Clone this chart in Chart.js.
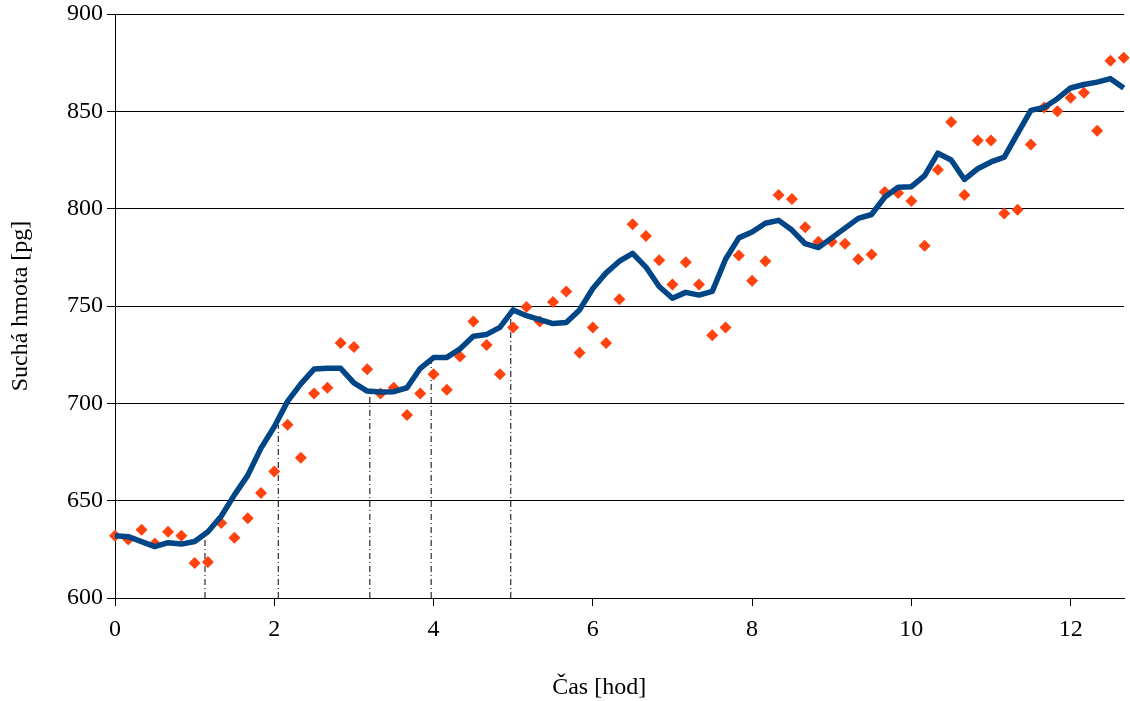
<!DOCTYPE html>
<html>
<head>
<meta charset="utf-8">
<script src="https://cdn.jsdelivr.net/npm/chart.js@4.4.1/dist/chart.umd.min.js"></script>
<style>
  html, body { margin: 0; padding: 0; background: #ffffff; }
  #wrap { width: 1130px; height: 701px; position: relative; }
</style>
</head>
<body>
<div id="wrap"><canvas id="c"></canvas></div>
<script>
// time of each measurement in minutes
const timesMin = [0,10,20,30,40,50,60,70,80,90,100,110,120,130,140,150,160,170,180,190,
  200,210,220,230,240,250,260,270,280,290,300,310,320,330,340,350,360,370,380,390,
  400,410,420,430,440,450,460,470,480,490,500,510,520,530,540,550,560,570,580,590,
  600,610,620,630,640,650,660,670,680,690,700,710,720,730,740,750,760];

// measured dry mass [pg] (orange diamonds)
const measured = [632,630,635,628,634,632,618,618.5,638.5,631,641,654,665,689,672,705,708,731,729,717.5,
  705,708,694,705,715,707,724,742,730,715,739,749.5,742,752,757.5,726,739,731,753.5,792,
  786,773.5,761,772.5,761,735,739,776,763,773,807,805,790.5,783,783,782,774,776.5,808.5,808,
  804,781,820,844.5,807,835,835,797.5,799.5,833,852,850,857,859.5,840,876,877.5];

// smoothed dry mass [pg] (blue line)
const smoothed = [632,631.5,629,626.4,628.4,627.7,629,634,642,653,663,677,688,701,710,717.6,718,718,710.5,706.3,
  705.8,706,708,718,723.5,723.6,728,734.5,735.4,739,748,745,743,741,741.5,748,759,767,773,777,
  770,760,754,757,755.6,757.5,774,785,788,792.5,794,789,782,780,785,790,795,797,806,811,
  811.3,817,828.5,825,815,820.5,824,826.5,838.5,850.5,852,856.5,862,863.8,865,866.8,862];

// dash-dot marker lines: time [h] and top value [pg]
const markerTimes = [1.13, 2.05, 3.2, 3.97, 4.97];
const markerTops = [634, 689, 705, 722, 748];

const yTicks = [600, 650, 700, 750, 800, 850, 900];
const xTicks = [0, 2, 4, 6, 8, 10, 12];
const xTitle = 'Čas [hod]';
const yTitle = 'Suchá hmota [pg]';

const FONT = "'Liberation Serif', 'DejaVu Serif', serif";

const pointsData = timesMin.map((t, i) => ({x: t / 60, y: measured[i]}));
const lineData = timesMin.map((t, i) => ({x: t / 60, y: smoothed[i]}));

const datasets = [
  {
    label: 'smoothed',
    data: lineData,
    borderColor: '#004586',
    backgroundColor: '#004586',
    borderWidth: 5.5,
    pointRadius: 0,
    tension: 0,
    borderJoinStyle: 'round',
    fill: false,
    clip: false,
    order: 0
  },
  {
    label: 'measured',
    data: pointsData,
    showLine: false,
    pointStyle: 'rectRot',
    pointRadius: 6,
    pointBackgroundColor: '#ff420e',
    pointBorderColor: '#ff420e',
    pointBorderWidth: 0,
    clip: false,
    order: 1
  }
];
markerTimes.forEach((t, i) => {
  datasets.push({
    label: 'marker' + i,
    data: [{x: t, y: yTicks[0]}, {x: t, y: markerTops[i]}],
    borderColor: '#000000',
    borderWidth: 1,
    borderDash: [6, 3, 1, 3],
    pointRadius: 0,
    fill: false,
    order: 2
  });
});

const xTitlePlugin = {
  id: 'xTitlePlugin',
  afterDraw(chart) {
    const ctx = chart.ctx;
    ctx.save();
    ctx.fillStyle = '#000000';
    ctx.font = "24px " + FONT;
    ctx.textAlign = 'center';
    ctx.textBaseline = 'middle';
    const xs = chart.scales.x;
    ctx.fillText(xTitle, xs.getPixelForValue(6.08), 688);
    ctx.restore();
  }
};

const whiteBg = {
  id: 'whiteBg',
  beforeDraw(chart) {
    const ctx = chart.ctx;
    ctx.save();
    ctx.fillStyle = '#ffffff';
    ctx.fillRect(0, 0, chart.width, chart.height);
    ctx.restore();
  }
};

new Chart(document.getElementById('c'), {
  type: 'line',
  data: { datasets },
  plugins: [whiteBg, xTitlePlugin],
  options: {
    responsive: true,
    maintainAspectRatio: false,
    animation: false,
    layout: { padding: { top: 0, right: 0, left: 0, bottom: 0 } },
    plugins: {
      legend: { display: false },
      tooltip: { enabled: false }
    },
    scales: {
      x: {
        type: 'linear',
        min: 0,
        max: 12.67,
        afterBuildTicks: s => { s.ticks = xTicks.map(v => ({value: v})); },
        afterFit: s => { s.height = 103; s.paddingLeft = 0; s.paddingRight = 0; },
        ticks: {
          color: '#000000',
          font: { family: FONT, size: 24 },
          padding: 9,
          maxRotation: 0,
          callback: v => String(v)
        },
        grid: {
          drawOnChartArea: false,
          drawTicks: true,
          tickLength: 8,
          color: '#000000',
          lineWidth: 1
        },
        border: { display: true, color: '#000000', width: 1 },
        title: { display: false }
      },
      y: {
        type: 'linear',
        min: 600,
        max: 900,
        afterBuildTicks: s => { s.ticks = yTicks.map(v => ({value: v})); },
        afterFit: s => { s.width = 115; s.paddingTop = 14; s.paddingBottom = 0; },
        ticks: {
          color: '#000000',
          font: { family: FONT, size: 24 },
          padding: 4
        },
        grid: {
          drawOnChartArea: true,
          drawTicks: true,
          tickLength: 8,
          color: '#000000',
          lineWidth: 1
        },
        border: { display: true, color: '#000000', width: 1 },
        title: {
          display: true,
          text: yTitle,
          color: '#000000',
          font: { family: FONT, size: 24 },
          padding: { top: 6, bottom: 0 }
        }
      }
    }
  }
});
</script>
</body>
</html>
